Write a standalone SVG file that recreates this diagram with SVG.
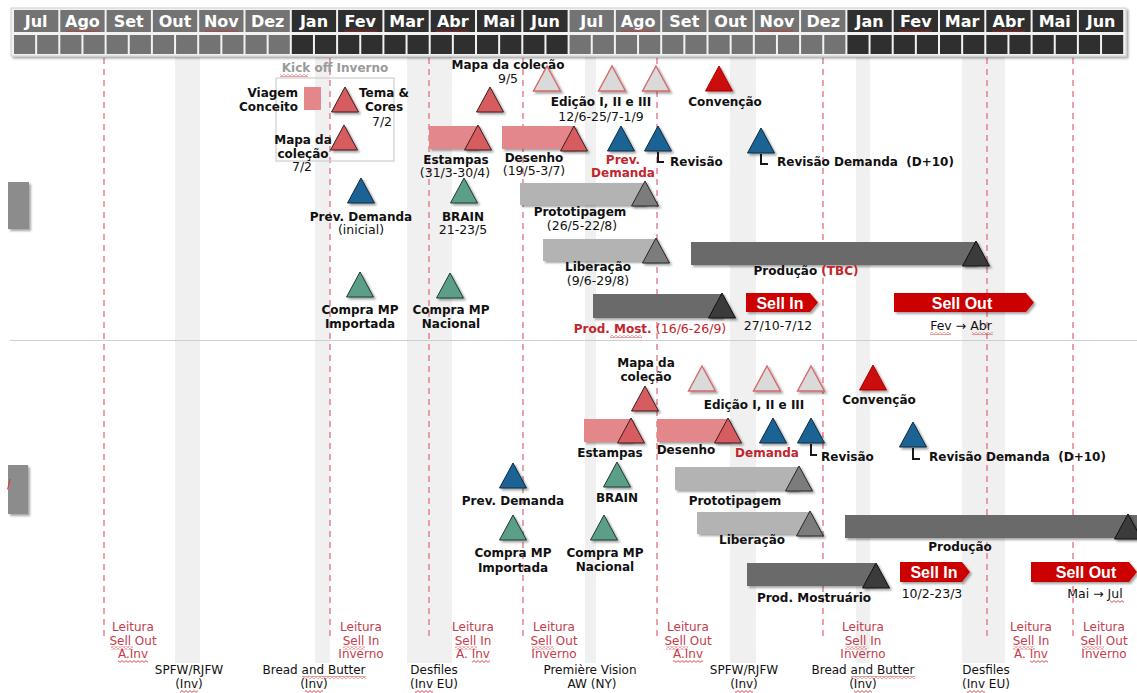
<svg xmlns="http://www.w3.org/2000/svg" xmlns:xlink="http://www.w3.org/1999/xlink" width="1137" height="693" viewBox="0 0 1137 693">
<style>
  .b{font-family:"DejaVu Sans",Verdana,sans-serif;font-size:12px;font-weight:bold;fill:#111}
  .n{font-family:"DejaVu Sans",Verdana,sans-serif;font-size:12.5px;fill:#111}
  .ev{font-family:"DejaVu Sans",Verdana,sans-serif;font-size:12px;fill:#111}
  .red{fill:#c0262d}
  .lt{font-family:"DejaVu Sans",Verdana,sans-serif;font-size:12px;fill:#c43c4d}
  .mo{font-family:"DejaVu Sans",Verdana,sans-serif;font-size:16px;font-weight:bold;fill:#fff}
  .si{font-family:"Liberation Sans",Arial,sans-serif;font-size:16px;font-weight:bold;fill:#fff}
  .kick{font-family:"DejaVu Sans",Verdana,sans-serif;font-size:12px;font-weight:bold;fill:#9a9a9a}
  .c{text-anchor:middle}
  .e{text-anchor:end}
  .mg{fill:#737373}
  .md{fill:#2f2f2f}
  .band{fill:#f0f0f0}
  .guide{stroke:#e07080;stroke-width:1.3;stroke-dasharray:6 5;fill:none}
  .tr{fill:#d65b60;stroke:#3b1c1c;stroke-width:1}
  .tl{fill:#dadada;stroke:#d46a6a;stroke-width:1.4}
  .tc{fill:#cc0a0a;stroke:#b30000;stroke-width:1}
  .tb{fill:#1b6395;stroke:#0c2a40;stroke-width:1}
  .tg{fill:#5c9f88;stroke:#1d3a30;stroke-width:1}
  .tp{fill:#7c7c7c;stroke:#262626;stroke-width:1}
  .td{fill:#3a3a3a;stroke:#111;stroke-width:1}
  .sh{filter:url(#sh)}
  .pink{fill:#e4878b}
  .lgray{fill:#b3b3b3}
  .dgray{fill:#6a6a6a}
  .arrow{fill:#cc0000}
  .lk{stroke:#1a1a1a;stroke-width:2;fill:none}
  .sq{fill:url(#wavy)}
</style>
<defs>
  <filter id="sh" x="-20%" y="-20%" width="150%" height="160%">
    <feDropShadow dx="2" dy="2" stdDeviation="1.3" flood-color="#000" flood-opacity="0.35"/>
  </filter>
  <polygon id="tri" points="0,-25 13.5,0 -13.5,0"/>
  <pattern id="wavy" width="4" height="3" patternUnits="userSpaceOnUse">
    <path d="M0,2.4 L2,0.6 L4,2.4" fill="none" stroke="#d02020" stroke-width="0.8"/>
  </pattern>
</defs>

<rect width="1137" height="693" fill="#fff"/>

<!-- event weeks shaded behind the timeline -->
<g id="bands">
  <rect class="band" x="175" y="57" width="25" height="606"/>
  <rect class="band" x="315" y="57" width="15" height="606"/>
  <rect class="band" x="407" y="57" width="45" height="606"/>
  <rect class="band" x="585" y="57" width="11" height="606"/>
  <rect class="band" x="730" y="57" width="26" height="606"/>
  <rect class="band" x="856" y="57" width="14" height="606"/>
  <rect class="band" x="962" y="57" width="43" height="606"/>
</g>

<!-- divider between the two seasons -->
<line x1="10" y1="340.5" x2="1137" y2="340.5" stroke="#cfcfcf" stroke-width="1.2"/>

<!-- left stubs -->
<g id="stubs">
  <rect x="8" y="182" width="21" height="47" fill="#8c8c8c" class="sh"/>
  <rect x="8" y="465" width="20" height="49" fill="#8c8c8c" class="sh"/>
  <text x="7" y="488" font-family="DejaVu Sans, sans-serif" font-size="12" fill="#e03030">/</text>
</g>

<!-- reading milestones (dashed guides) -->
<g id="connectors">
  <g id="guides">
    <line class="guide" x1="104" y1="58" x2="104" y2="641"/>
    <line class="guide" x1="330" y1="58" x2="330" y2="641"/>
    <line class="guide" x1="429" y1="58" x2="429" y2="641"/>
    <line class="guide" x1="523" y1="58" x2="523" y2="641"/>
    <line class="guide" x1="657" y1="58" x2="657" y2="641"/>
    <line class="guide" x1="823" y1="58" x2="823" y2="641"/>
    <line class="guide" x1="987" y1="58" x2="987" y2="641"/>
    <line class="guide" x1="1073" y1="58" x2="1073" y2="641"/>
  </g>
  <path class="lk" d="M658,152 V162 H664"/>
  <path class="lk" d="M761,154 V164 H768"/>
  <path class="lk" d="M811,444 V455 H817"/>
  <path class="lk" d="M913,448 V459 H920"/>
</g>

<!-- month header -->
<g id="header">
  <rect x="11" y="8" width="1115" height="48" fill="#f2f2f2" stroke="#d0d0d0" class="sh"/>
  <g class="mg">
    <rect x="14" y="10" width="44.3" height="22"/><rect x="60.3" y="10" width="44.3" height="22"/><rect x="106.6" y="10" width="44.3" height="22"/>
    <rect x="152.9" y="10" width="44.3" height="22"/><rect x="199.2" y="10" width="44.3" height="22"/><rect x="245.5" y="10" width="44.3" height="22"/>
    <rect x="569.6" y="10" width="44.3" height="22"/><rect x="615.9" y="10" width="44.3" height="22"/><rect x="662.2" y="10" width="44.3" height="22"/>
    <rect x="708.5" y="10" width="44.3" height="22"/><rect x="754.8" y="10" width="44.3" height="22"/><rect x="801.1" y="10" width="44.3" height="22"/>
    <rect x="14" y="35" width="21.15" height="19"/><rect x="37.15" y="35" width="21.15" height="19"/>
    <rect x="60.3" y="35" width="21.15" height="19"/><rect x="83.45" y="35" width="21.15" height="19"/>
    <rect x="106.6" y="35" width="21.15" height="19"/><rect x="129.75" y="35" width="21.15" height="19"/>
    <rect x="152.9" y="35" width="21.15" height="19"/><rect x="176.05" y="35" width="21.15" height="19"/>
    <rect x="199.2" y="35" width="21.15" height="19"/><rect x="222.35" y="35" width="21.15" height="19"/>
    <rect x="245.5" y="35" width="21.15" height="19"/><rect x="268.65" y="35" width="21.15" height="19"/>
    <rect x="569.6" y="35" width="21.15" height="19"/><rect x="592.75" y="35" width="21.15" height="19"/>
    <rect x="615.9" y="35" width="21.15" height="19"/><rect x="639.05" y="35" width="21.15" height="19"/>
    <rect x="662.2" y="35" width="21.15" height="19"/><rect x="685.35" y="35" width="21.15" height="19"/>
    <rect x="708.5" y="35" width="21.15" height="19"/><rect x="731.65" y="35" width="21.15" height="19"/>
    <rect x="754.8" y="35" width="21.15" height="19"/><rect x="777.95" y="35" width="21.15" height="19"/>
    <rect x="801.1" y="35" width="21.15" height="19"/><rect x="824.25" y="35" width="21.15" height="19"/>
  </g>
  <g class="md">
    <rect x="291.8" y="10" width="44.3" height="22"/><rect x="338.1" y="10" width="44.3" height="22"/><rect x="384.4" y="10" width="44.3" height="22"/>
    <rect x="430.7" y="10" width="44.3" height="22"/><rect x="477" y="10" width="44.3" height="22"/><rect x="523.3" y="10" width="44.3" height="22"/>
    <rect x="847.4" y="10" width="44.3" height="22"/><rect x="893.7" y="10" width="44.3" height="22"/><rect x="940" y="10" width="44.3" height="22"/>
    <rect x="986.3" y="10" width="44.3" height="22"/><rect x="1032.6" y="10" width="44.3" height="22"/><rect x="1078.9" y="10" width="44.3" height="22"/>
    <rect x="291.8" y="35" width="21.15" height="19"/><rect x="314.95" y="35" width="21.15" height="19"/>
    <rect x="338.1" y="35" width="21.15" height="19"/><rect x="361.25" y="35" width="21.15" height="19"/>
    <rect x="384.4" y="35" width="21.15" height="19"/><rect x="407.55" y="35" width="21.15" height="19"/>
    <rect x="430.7" y="35" width="21.15" height="19"/><rect x="453.85" y="35" width="21.15" height="19"/>
    <rect x="477" y="35" width="21.15" height="19"/><rect x="500.15" y="35" width="21.15" height="19"/>
    <rect x="523.3" y="35" width="21.15" height="19"/><rect x="546.45" y="35" width="21.15" height="19"/>
    <rect x="847.4" y="35" width="21.15" height="19"/><rect x="870.55" y="35" width="21.15" height="19"/>
    <rect x="893.7" y="35" width="21.15" height="19"/><rect x="916.85" y="35" width="21.15" height="19"/>
    <rect x="940" y="35" width="21.15" height="19"/><rect x="963.15" y="35" width="21.15" height="19"/>
    <rect x="986.3" y="35" width="21.15" height="19"/><rect x="1009.45" y="35" width="21.15" height="19"/>
    <rect x="1032.6" y="35" width="21.15" height="19"/><rect x="1055.75" y="35" width="21.15" height="19"/>
    <rect x="1078.9" y="35" width="21.15" height="19"/><rect x="1102.05" y="35" width="21.15" height="19"/>
  </g>
  <g class="mo c">
    <text x="36.15" y="27">Jul</text><text x="82.45" y="27">Ago</text><text x="128.75" y="27">Set</text>
    <text x="175.05" y="27">Out</text><text x="221.35" y="27">Nov</text><text x="267.65" y="27">Dez</text>
    <text x="313.95" y="27">Jan</text><text x="360.25" y="27">Fev</text><text x="406.55" y="27">Mar</text>
    <text x="452.85" y="27">Abr</text><text x="499.15" y="27">Mai</text><text x="545.45" y="27">Jun</text>
    <text x="591.75" y="27">Jul</text><text x="638.05" y="27">Ago</text><text x="684.35" y="27">Set</text>
    <text x="730.65" y="27">Out</text><text x="776.95" y="27">Nov</text><text x="823.25" y="27">Dez</text>
    <text x="869.55" y="27">Jan</text><text x="915.85" y="27">Fev</text><text x="962.15" y="27">Mar</text>
    <text x="1008.45" y="27">Abr</text><text x="1054.75" y="27">Mai</text><text x="1101.05" y="27">Jun</text>
  </g>
  <g>
    <rect class="sq" x="66" y="29" width="34" height="3"/><rect class="sq" x="205" y="29" width="33" height="3"/>
    <rect class="sq" x="344" y="29" width="33" height="3"/><rect class="sq" x="436" y="29" width="33" height="3"/>
    <rect class="sq" x="621" y="29" width="34" height="3"/><rect class="sq" x="760" y="29" width="33" height="3"/>
    <rect class="sq" x="899" y="29" width="33" height="3"/><rect class="sq" x="992" y="29" width="33" height="3"/>
  </g>
</g>

<!-- ===== upper season ===== -->
<g id="kickoff">
  <rect x="276" y="78" width="118" height="83" fill="none" stroke="#d2d2d2" stroke-width="1.3"/>
  <text class="kick c" x="335" y="72">Kick off Inverno</text>
  <rect class="sq" x="280" y="74" width="28" height="3"/>
</g>
<g id="viagem">
  <rect class="pink" x="304" y="87" width="17" height="23"/>
  <text class="b e" x="298" y="97">Viagem</text>
  <text class="b e" x="298" y="111">Conceito</text>
</g>
<g id="tema">
  <use href="#tri" x="345" y="112" class="tr sh"/>
  <text class="b c" x="384" y="97">Tema &amp;</text>
  <text class="b c" x="384" y="111">Cores</text>
  <text class="n c" x="382" y="126">7/2</text>
</g>
<g id="mapa-1">
  <use href="#tri" x="344" y="150" class="tr sh"/>
  <text class="b c" x="303" y="144">Mapa da</text>
  <text class="b c" x="303" y="158">coleção</text>
  <text class="n c" x="302" y="171">7/2</text>
</g>
<g id="mapa-2">
  <use href="#tri" x="490" y="112" class="tr sh"/>
  <text class="b c" x="508" y="69">Mapa da coleção</text>
  <text class="n c" x="508" y="83">9/5</text>
</g>
<g id="edicao-1">
  <use href="#tri" x="547" y="91" class="tl sh"/>
  <use href="#tri" x="612" y="91" class="tl sh"/>
  <use href="#tri" x="656" y="91" class="tl sh"/>
  <text class="b c" x="601" y="106">Edição I, II e III</text>
  <text class="n c" x="601" y="121">12/6-25/7-1/9</text>
</g>
<g id="convencao-1">
  <use href="#tri" x="719" y="91" class="tc sh"/>
  <text class="b c" x="725" y="106">Convenção</text>
</g>
<g id="estampas-1">
  <rect class="pink sh" x="429" y="126" width="49" height="23"/>
  <use href="#tri" x="478" y="150" class="tr sh"/>
  <text class="b c" x="456" y="164">Estampas</text>
  <text class="n c" x="455" y="177">(31/3-30/4)</text>
</g>
<g id="desenho-1">
  <rect class="pink sh" x="502" y="126" width="73" height="23"/>
  <use href="#tri" x="574" y="151" class="tr sh"/>
  <text class="b c" x="534" y="162">Desenho</text>
  <text class="n c" x="534" y="175">(19/5-3/7)</text>
</g>
<g id="prev-demanda-2">
  <use href="#tri" x="621" y="151" class="tb sh"/>
  <text class="b c red" x="623" y="164">Prev.</text>
  <text class="b c red" x="623" y="177">Demanda</text>
</g>
<g id="revisao-1">
  <use href="#tri" x="658" y="151" class="tb sh"/>
  <text class="b" x="670" y="166">Revisão</text>
</g>
<g id="revisao-demanda-1">
  <use href="#tri" x="761" y="153" class="tb sh"/>
  <text class="b" x="777" y="166">Revisão Demanda&#160; (D+10)</text>
</g>
<g id="prev-demanda-1">
  <use href="#tri" x="361" y="203" class="tb sh"/>
  <text class="b c" x="361" y="221">Prev. Demanda</text>
  <text class="n c" x="361" y="234">(inicial)</text>
</g>
<g id="brain-1">
  <use href="#tri" x="464" y="203" class="tg sh"/>
  <text class="b c" x="463" y="221">BRAIN</text>
  <text class="n c" x="463" y="234">21-23/5</text>
</g>
<g id="prototipagem-1">
  <rect class="lgray sh" x="520" y="183" width="125" height="22"/>
  <use href="#tri" x="645" y="206" class="tp sh"/>
  <text class="b c" x="580" y="216">Prototipagem</text>
  <text class="n c" x="582" y="230">(26/5-22/8)</text>
</g>
<g id="liberacao-1">
  <rect class="lgray sh" x="543" y="239" width="113" height="22"/>
  <use href="#tri" x="656" y="263" class="tp sh"/>
  <text class="b c" x="598" y="271">Liberação</text>
  <text class="n c" x="598" y="285">(9/6-29/8)</text>
</g>
<g id="producao-1">
  <rect class="dgray sh" x="691" y="242" width="285" height="23"/>
  <use href="#tri" x="976" y="266" class="td sh"/>
  <text class="b c" x="806" y="275">Produção <tspan class="red">(TBC)</tspan></text>
</g>
<g id="prod-most-1">
  <rect class="dgray sh" x="593" y="294" width="129" height="24"/>
  <use href="#tri" x="722" y="318" class="td sh"/>
  <text class="b c red" x="650" y="333">Prod. Most. <tspan font-weight="normal" font-size="12.5">(16/6-26/9)</tspan></text>
  <rect class="sq" x="610" y="335" width="32" height="3"/>
</g>
<g id="sell-in-1">
  <path class="arrow sh" d="M746,293 H810 L818,302.5 L810,312 H746 Z"/>
  <text class="si c" x="780" y="308.5">Sell In</text>
  <rect class="sq" x="757" y="309" width="27" height="3"/>
  <text class="n c" x="778" y="330">27/10-7/12</text>
</g>
<g id="sell-out-1">
  <path class="arrow sh" d="M894,293 H1026 L1034,302.5 L1026,312 H894 Z"/>
  <text class="si c" x="962" y="308.5">Sell Out</text>
  <rect class="sq" x="931" y="309" width="27" height="3"/>
  <text class="n c" x="961" y="330">Fev → Abr</text>
  <rect class="sq" x="930" y="332" width="21" height="3"/>
  <rect class="sq" x="972" y="332" width="21" height="3"/>
</g>
<g id="compra-imp-1">
  <use href="#tri" x="360" y="297" class="tg sh"/>
  <text class="b c" x="360" y="314">Compra MP</text>
  <text class="b c" x="360" y="328">Importada</text>
</g>
<g id="compra-nac-1">
  <use href="#tri" x="450" y="298" class="tg sh"/>
  <text class="b c" x="451" y="314">Compra MP</text>
  <text class="b c" x="451" y="328">Nacional</text>
</g>

<!-- ===== lower season ===== -->
<g id="mapa-3">
  <use href="#tri" x="645" y="411" class="tr sh"/>
  <text class="b c" x="646" y="367">Mapa da</text>
  <text class="b c" x="646" y="381">coleção</text>
</g>
<g id="edicao-2">
  <use href="#tri" x="702" y="391" class="tl sh"/>
  <use href="#tri" x="767" y="391" class="tl sh"/>
  <use href="#tri" x="811" y="391" class="tl sh"/>
  <text class="b c" x="754" y="409">Edição I, II e III</text>
</g>
<g id="convencao-2">
  <use href="#tri" x="873" y="390" class="tc sh"/>
  <text class="b c" x="879" y="404">Convenção</text>
</g>
<g id="estampas-2">
  <rect class="pink sh" x="584" y="419" width="48" height="23"/>
  <use href="#tri" x="631" y="443" class="tr sh"/>
  <text class="b c" x="610" y="457">Estampas</text>
</g>
<g id="desenho-2">
  <rect class="pink sh" x="657" y="419" width="72" height="23"/>
  <use href="#tri" x="728" y="443" class="tr sh"/>
  <text class="b c" x="686" y="454">Desenho</text>
</g>
<g id="demanda-2">
  <use href="#tri" x="773" y="443" class="tb sh"/>
  <text class="b c red" x="767" y="457">Demanda</text>
</g>
<g id="revisao-2">
  <use href="#tri" x="811" y="443" class="tb sh"/>
  <text class="b" x="821" y="461">Revisão</text>
</g>
<g id="revisao-demanda-2">
  <use href="#tri" x="913" y="447" class="tb sh"/>
  <text class="b" x="929" y="461">Revisão Demanda&#160; (D+10)</text>
</g>
<g id="prev-demanda-3">
  <use href="#tri" x="513" y="488" class="tb sh"/>
  <text class="b c" x="513" y="505">Prev. Demanda</text>
</g>
<g id="brain-2">
  <use href="#tri" x="617" y="487" class="tg sh"/>
  <text class="b c" x="617" y="502">BRAIN</text>
</g>
<g id="compra-imp-2">
  <use href="#tri" x="513" y="540" class="tg sh"/>
  <text class="b c" x="513" y="557">Compra MP</text>
  <text class="b c" x="513" y="572">Importada</text>
</g>
<g id="compra-nac-2">
  <use href="#tri" x="604" y="540" class="tg sh"/>
  <text class="b c" x="605" y="557">Compra MP</text>
  <text class="b c" x="605" y="571">Nacional</text>
</g>
<g id="prototipagem-2">
  <rect class="lgray sh" x="675" y="467" width="123" height="23"/>
  <use href="#tri" x="799" y="491" class="tp sh"/>
  <text class="b c" x="735" y="505">Prototipagem</text>
</g>
<g id="liberacao-2">
  <rect class="lgray sh" x="697" y="512" width="112" height="22"/>
  <use href="#tri" x="810" y="536" class="tp sh"/>
  <text class="b c" x="752" y="544">Liberação</text>
</g>
<g id="producao-2">
  <rect class="dgray sh" x="845" y="515" width="292" height="23"/>
  <use href="#tri" x="1128" y="539" class="td sh"/>
  <text class="b c" x="960" y="551">Produção</text>
</g>
<g id="prod-mostruario">
  <rect class="dgray sh" x="747" y="563" width="128" height="23"/>
  <use href="#tri" x="876" y="588" class="td sh"/>
  <text class="b c" x="814" y="602">Prod. Mostruário</text>
</g>
<g id="sell-in-2">
  <path class="arrow sh" d="M900,562 H962 L970,572 L962,582 H900 Z"/>
  <text class="si c" x="934" y="578">Sell In</text>
  <rect class="sq" x="911" y="578.5" width="27" height="3"/>
  <text class="n c" x="932" y="598">10/2-23/3</text>
</g>
<g id="sell-out-2">
  <path class="arrow sh" d="M1031,562 H1129 L1137,572 L1129,582 H1031 Z"/>
  <text class="si c" x="1086" y="578">Sell Out</text>
  <rect class="sq" x="1055" y="578.5" width="27" height="3"/>
  <text class="n c" x="1095" y="598">Mai → Jul</text>
  <rect class="sq" x="1110" y="600" width="14" height="3"/>
</g>

<!-- reading labels and fashion events along the bottom -->
<g id="leitura-labels" class="lt c">
  <text x="133" y="631">Leitura</text><text x="133" y="644.5">Sell Out</text><text x="133" y="658">A.Inv</text>
  <text x="361" y="631">Leitura</text><text x="361" y="644.5">Sell In</text><text x="361" y="658">Inverno</text>
  <text x="473" y="631">Leitura</text><text x="473" y="644.5">Sell In</text><text x="473" y="658">A. Inv</text>
  <text x="554" y="631">Leitura</text><text x="554" y="644.5">Sell Out</text><text x="554" y="658">Inverno</text>
  <text x="688" y="631">Leitura</text><text x="688" y="644.5">Sell Out</text><text x="688" y="658">A.Inv</text>
  <text x="863" y="631">Leitura</text><text x="863" y="644.5">Sell In</text><text x="863" y="658">Inverno</text>
  <text x="1031" y="631">Leitura</text><text x="1031" y="644.5">Sell In</text><text x="1031" y="658">A. Inv</text>
  <text x="1104" y="631">Leitura</text><text x="1104" y="644.5">Sell Out</text><text x="1104" y="658">Inverno</text>
</g>
<g id="event-labels" class="ev c">
  <text x="189" y="674">SPFW/RJFW</text><text x="189" y="688">(Inv)</text>
  <text x="314" y="674">Bread and Butter</text><text x="314" y="688">(Inv)</text>
  <text x="434" y="674">Desfiles</text><text x="434" y="688">(Inv EU)</text>
  <text x="590" y="674">Première Vision</text><text x="592" y="688">AW (NY)</text>
  <text x="744" y="674">SPFW/RJFW</text><text x="744" y="688">(Inv)</text>
  <text x="863" y="674">Bread and Butter</text><text x="863" y="688">(Inv)</text>
  <text x="986" y="674">Desfiles</text><text x="986" y="688">(Inv EU)</text>
</g>
<g id="spelling-marks">
  <rect class="sq" x="111" y="646.5" width="22" height="3"/><rect class="sq" x="118" y="660" width="30" height="3"/>
  <rect class="sq" x="343" y="646.5" width="22" height="3"/>
  <rect class="sq" x="455" y="646.5" width="22" height="3"/><rect class="sq" x="472" y="660" width="18" height="3"/>
  <rect class="sq" x="532" y="646.5" width="22" height="3"/>
  <rect class="sq" x="666" y="646.5" width="22" height="3"/><rect class="sq" x="673" y="660" width="30" height="3"/>
  <rect class="sq" x="845" y="646.5" width="22" height="3"/>
  <rect class="sq" x="1013" y="646.5" width="22" height="3"/><rect class="sq" x="1030" y="660" width="18" height="3"/>
  <rect class="sq" x="1082" y="646.5" width="22" height="3"/>
  <rect class="sq" x="180" y="690" width="18" height="3"/><rect class="sq" x="305" y="690" width="18" height="3"/>
  <rect class="sq" x="302" y="676" width="64" height="3"/>
  <rect class="sq" x="415" y="690" width="18" height="3"/>
  <rect class="sq" x="735" y="690" width="18" height="3"/><rect class="sq" x="854" y="690" width="18" height="3"/>
  <rect class="sq" x="851" y="676" width="64" height="3"/>
  <rect class="sq" x="967" y="690" width="18" height="3"/>
</g>
</svg>
